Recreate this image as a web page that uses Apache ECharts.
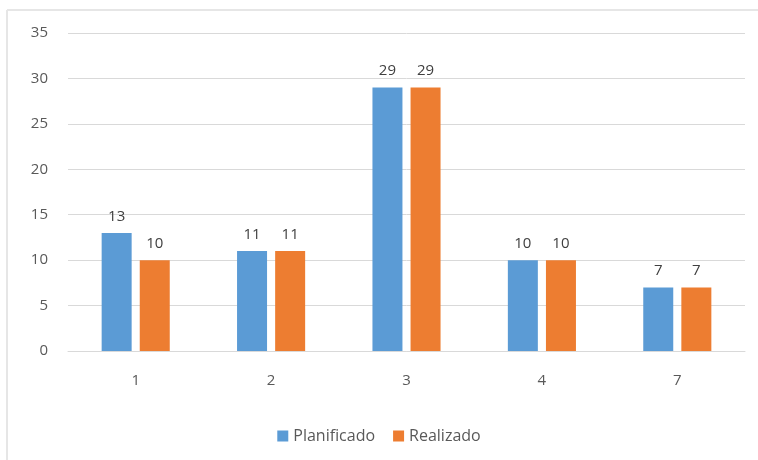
<!DOCTYPE html>
<html><head><meta charset="utf-8">
<script src="https://cdn.jsdelivr.net/npm/echarts@6/dist/echarts.min.js"></script>
<style>html,body{margin:0;padding:0;background:#fff}#c{width:758px;height:460px}</style>
</head><body><div id="c"></div>
<script>
const categories = ['1','2','3','4','7'];
const planificado = [13, 11, 29, 10, 7];
const realizado = [10, 11, 29, 10, 7];
const seriesNames = ['Planificado','Realizado'];
const chart = echarts.init(document.getElementById('c'));
const font = '"Open Sans", sans-serif';
const lbl = {show:true, position:'top', distance:9, color:'#404040', fontSize:15, fontFamily:font};
chart.setOption({
  animation:false,
  graphic:[
    {type:'line', shape:{x1:7,y1:10,x2:758,y2:10}, style:{stroke:'#e6e6e6', lineWidth:2}},
    {type:'line', shape:{x1:7,y1:10,x2:7,y2:460}, style:{stroke:'#e6e6e6', lineWidth:2}}
  ],
  grid:{left:68, right:13, top:33, bottom:109},
  legend:{bottom:11, left:'center', itemWidth:11, itemHeight:11, itemGap:18, icon:'rect',
    textStyle:{color:'#595959', fontSize:16, fontFamily:font}, data:seriesNames},
  xAxis:{type:'category', data:categories,
    axisLine:{lineStyle:{color:'#d9d9d9'}}, axisTick:{show:false},
    axisLabel:{color:'#595959', fontSize:15, fontFamily:font, margin:22}},
  yAxis:{type:'value', min:0, max:35, interval:5,
    axisLine:{show:false}, axisTick:{show:false},
    axisLabel:{color:'#595959', fontSize:15, fontFamily:font, margin:20},
    splitLine:{lineStyle:{color:'#d9d9d9'}}},
  series:[
    {name:seriesNames[0], type:'bar', data:planificado, barWidth:30, barGap:'27%', itemStyle:{color:'#5B9BD5'}, label:lbl},
    {name:seriesNames[1], type:'bar', data:realizado, barWidth:30, itemStyle:{color:'#ED7D31'}, label:lbl}
  ]
});
</script></body></html>
